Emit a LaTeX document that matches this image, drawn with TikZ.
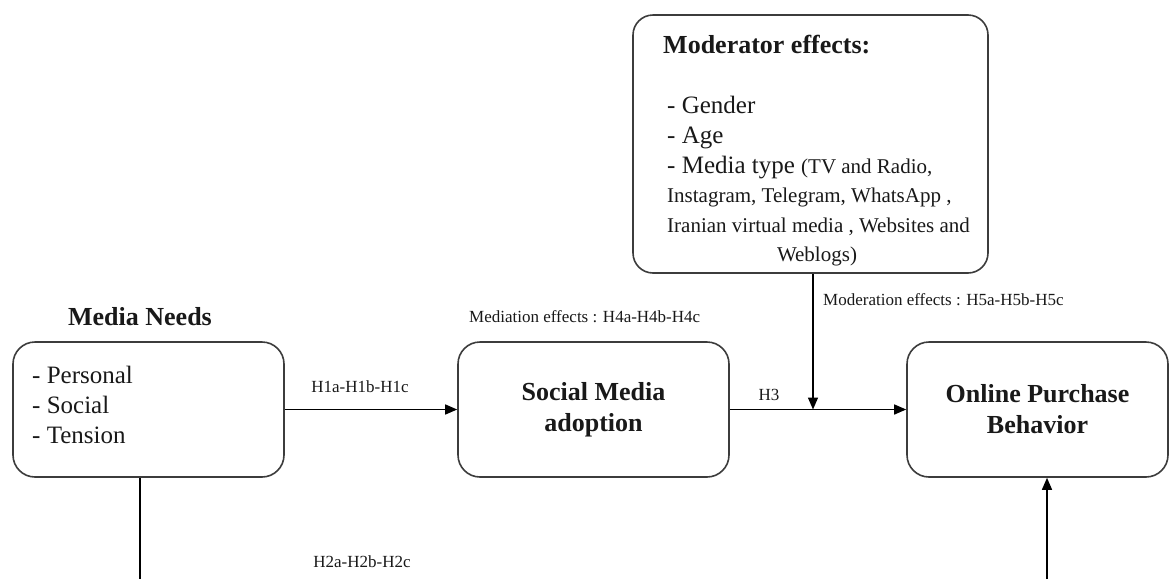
\documentclass[tikz,border=0pt]{standalone}
\usepackage{fontspec}
\setmainfont{Liberation Serif}
\usetikzlibrary{arrows.meta}
\definecolor{boxgray}{RGB}{60,60,60}
\definecolor{ink}{RGB}{25,25,25}
\begin{document}
\begin{tikzpicture}[x=1pt,y=-1pt,
  box/.style={draw=boxgray,line width=1.6pt,rounded corners=22pt,inner sep=0pt},
  bigbold/.style={font=\fontsize{26}{31}\selectfont\bfseries,text=ink},
  lst/.style={font=\fontsize{25}{30}\selectfont,text=ink,inner sep=0pt},
  smallt/.style={font=\fontsize{21}{29}\selectfont,text=ink,inner sep=0pt},
  lbl/.style={font=\fontsize{17}{20}\selectfont,text=ink,inner sep=0pt},
  ln/.style={draw=black,line width=1.4pt},
  arr/.style={ln,-{Triangle[length=12pt,width=10pt]}}]
\useasboundingbox (0,0) rectangle (1170,579);
\fill[white] (0,0) rectangle (1170,579);

% Media Needs
\node[bigbold,anchor=base,inner sep=0pt] (needsT) at (140,325) {Media Needs};
\node[box,minimum width=271pt,minimum height=135pt] (needs) at (148.5,409.5) {};
\node[lst,anchor=base west] (n1) at (32,383) {- Personal};
\node[lst,anchor=base west] (n2) at (32,413) {- Social};
\node[lst,anchor=base west] (n3) at (32,443) {- Tension};

% Social Media adoption
\node[box,minimum width=271pt,minimum height=135pt,bigbold,align=center] (sma) at (593.5,409.5) {Social Media\\adoption};

% Online Purchase Behavior
\node[box,minimum width=261pt,minimum height=135pt,bigbold,align=center] (opb) at (1037.5,409.5) {Online Purchase\\Behavior};

% Moderator box
\node[box,minimum width=355pt,minimum height=258pt,rounded corners=20pt] (mod) at (810.5,144) {};
\node[bigbold,anchor=base west,inner sep=0pt] (modT) at (663,53) {Moderator effects:};
\node[lst,anchor=base west] (m1) at (667,113) {- Gender};
\node[lst,anchor=base west] (m2) at (667,143) {- Age};
\node[lst,anchor=base west] (m3) at (667,173) {- Media type {\fontsize{21}{29}\selectfont(TV and Radio,}};
\node[smallt,anchor=base west] (m4) at (667,202) {Instagram, Telegram, WhatsApp ,};
\node[smallt,anchor=base west] (m5) at (667,232) {Iranian virtual media , Websites and};
\node[smallt,anchor=base] (m6) at (817,261) {Weblogs)};

% labels
\node[lbl,anchor=base west] (lmed) at (469,322) {Mediation effects : H4a-H4b-H4c};
\node[lbl,anchor=base west] (lmod) at (823,305) {Moderation effects : H5a-H5b-H5c};
\node[lbl,anchor=base] (lh1) at (360,392) {H1a-H1b-H1c};
\node[lbl,anchor=base] (lh3) at (769,400) {H3};
\node[lbl,anchor=base] (lh2) at (362,567) {H2a-H2b-H2c};

% connectors
\coordinate (j) at (813,409.5);
\coordinate (b1) at (140,579);
\coordinate (b2) at (1047,579);
\draw[arr] (needs.east) -- (sma.west);
\draw[arr] (sma.east) -- (opb.west);
\draw[arr] (mod.south -| j) -- (j);
\draw[ln] (needs.south -| b1) -- (b1);
\draw[arr] (b2) -- (opb.south -| b2);
\end{tikzpicture}
\end{document}
